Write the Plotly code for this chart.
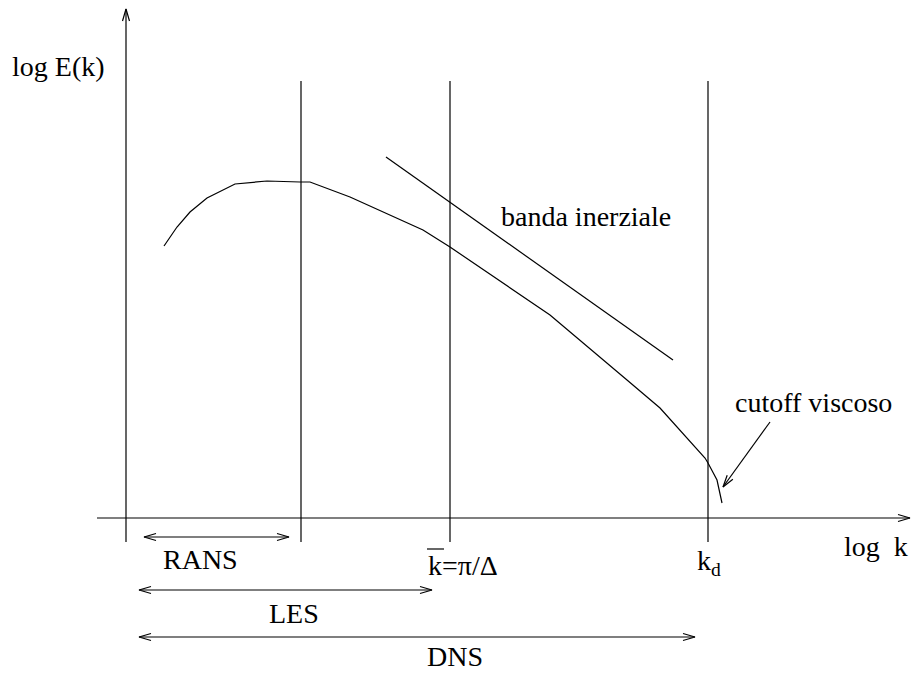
import numpy as np
import plotly.graph_objects as go

# Diagram coordinates (x grows to the right, y grows downward)
W, H = 912, 673

# Energy spectrum E(k), sketched
spectrum_k = [164, 177, 190, 207, 235, 267, 300, 310, 350, 423, 450, 550, 627, 660, 705, 708, 717, 722]
spectrum_E = [246, 227, 212, 198, 184, 181, 182, 182, 197, 230, 247, 315, 380, 408, 458, 463, 480, 503]

# Inertial-range slope line
inertial_k = [386, 673]
inertial_E = [157, 360]

# Vertical markers: RANS limit, filter cutoff k̄, dissipation scale k_d
marker_k = [301, 450, 708]
marker_top, marker_bottom = 81, 542

# Axes
yaxis_k, yaxis_from, yaxis_to = 126, 542, 9
xaxis_E, xaxis_from, xaxis_to = 518, 97, 910

# Range arrows (double headed): name, y, start, end, label position
ranges = [
    ("RANS", 537, 144, 289, 200, 559),
    ("LES", 590, 139, 432, 294, 613),
    ("DNS", 637, 139, 695, 455, 656),
]

# Pointer to the viscous cutoff
cutoff_from = (770, 422)
cutoff_to = (723, 487)

HEAD_LEN, HEAD_HALF = 12, 3.5
FONT = "Liberation Serif, Times New Roman, serif"
FS = 28


def head(tip, tail):
    """Open V arrowhead at `tip`, for an arrow coming from `tail`."""
    tip = np.asarray(tip, float)
    tail = np.asarray(tail, float)
    u = tip - tail
    u /= np.hypot(*u)
    n = np.array([-u[1], u[0]])
    b1 = tip - HEAD_LEN * u + HEAD_HALF * n
    b2 = tip - HEAD_LEN * u - HEAD_HALF * n
    return [b1[0], tip[0], b2[0], None], [b1[1], tip[1], b2[1], None]


xs, ys = [], []


def seg(x0, y0, x1, y1):
    xs.extend([x0, x1, None])
    ys.extend([y0, y1, None])


def arrow(p0, p1, both=False):
    seg(p0[0], p0[1], p1[0], p1[1])
    hx, hy = head(p1, p0)
    xs.extend(hx)
    ys.extend(hy)
    if both:
        hx, hy = head(p0, p1)
        xs.extend(hx)
        ys.extend(hy)


arrow((yaxis_k, yaxis_from), (yaxis_k, yaxis_to))
arrow((xaxis_from, xaxis_E), (xaxis_to, xaxis_E))
for k in marker_k:
    seg(k, marker_top, k, marker_bottom)
for name, y, a, b, lx, ly in ranges:
    arrow((a, y), (b, y), both=True)
arrow(cutoff_from, cutoff_to)

line_style = dict(color="black", width=1.2)

fig = go.Figure()
fig.add_trace(go.Scatter(x=xs, y=ys, mode="lines", line=line_style, hoverinfo="skip"))
fig.add_trace(go.Scatter(x=spectrum_k, y=spectrum_E, mode="lines", line=line_style, hoverinfo="skip"))
fig.add_trace(go.Scatter(x=inertial_k, y=inertial_E, mode="lines", line=line_style, hoverinfo="skip"))

labels = [
    ("log E(k)", 58, 66),
    ("banda inerziale", 586, 216),
    ("cutoff viscoso", 813, 402),
    ("log  k", 876, 546),
    ("k<sub>d</sub>", 709, 562),
]
for name, y, a, b, lx, ly in ranges:
    labels.append((name, lx, ly))

# Filter cutoff label with an overbar on k
kbar_x, kbar_y = 463, 565
labels.append(("k=π/Δ", kbar_x, kbar_y))

annotations = [
    dict(x=x, y=y, text=t, showarrow=False, xanchor="center", yanchor="middle",
         font=dict(family=FONT, size=FS, color="black"))
    for t, x, y in labels
]
shapes = [dict(type="line", x0=kbar_x - 36, x1=kbar_x - 19, y0=kbar_y - 16, y1=kbar_y - 16,
               line=dict(color="black", width=1.2))]

fig.update_layout(
    width=W, height=H,
    margin=dict(l=0, r=0, t=0, b=0),
    paper_bgcolor="white", plot_bgcolor="white",
    showlegend=False,
    xaxis=dict(range=[0, W], visible=False, fixedrange=True),
    yaxis=dict(range=[H, 0], visible=False, fixedrange=True),
    annotations=annotations,
    shapes=shapes,
)

fig.write_html("out.html")
